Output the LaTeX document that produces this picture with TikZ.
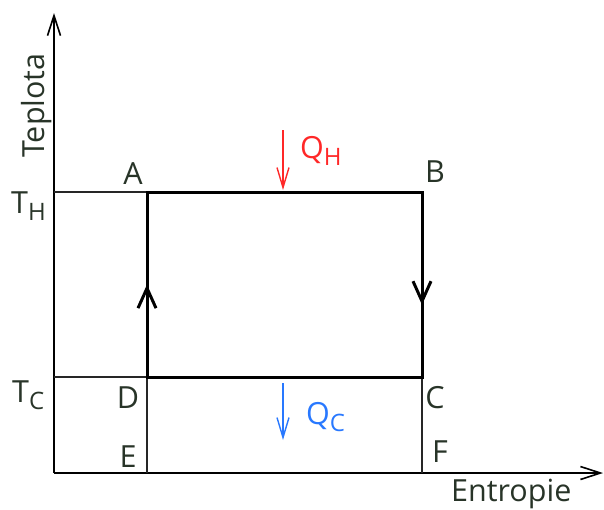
\documentclass[tikz,border=0pt]{standalone}
\usepackage{fontspec}
\setmainfont{Open Sans}
\usepackage{tikz}
\usetikzlibrary{arrows.meta, decorations.markings}
\definecolor{labelgray}{RGB}{40,52,40}
\definecolor{heatred}{RGB}{255,40,40}
\definecolor{coldblue}{RGB}{40,120,255}
\newcommand{\lowsub}[1]{\raisebox{-0.45ex}{\fontsize{24}{24}\selectfont #1}}

\begin{document}
\begin{tikzpicture}[x=1pt, y=-1pt,
  thinline/.style={line width=1.5pt, black!85},
  cycleline/.style={line width=3pt, black, line cap=rect},
  axisline/.style={line width=1.6pt, -{Straight Barb[length=20pt, width=13pt]}},
  heatline/.style={line width=1.4pt, -{Straight Barb[length=20pt, width=12pt]}},
  lbl/.style={font=\fontsize{30.5}{36}\selectfont, text=labelgray, inner sep=0pt},
  midarrow/.style={postaction={decorate}, decoration={markings,
    mark=at position #1 with {\arrow{Straight Barb[length=20pt, width=18pt]}}}},
  ]
  \useasboundingbox (0,0) rectangle (604,509);
  % axes
  \coordinate (O) at (54,473);
  \coordinate (ytop) at (54,13);
  \coordinate (xend) at (603,473);
  \draw[axisline] (O) -- (ytop);
  \draw[axisline] (O) -- (xend);
  % corners of the cycle
  \coordinate (A) at (147,192);
  \coordinate (B) at (422,192);
  \coordinate (C) at (422,377);
  \coordinate (D) at (147,377);
  \coordinate (E) at (147,473);
  \coordinate (F) at (422,473);
  % helper lines
  \draw[thinline] (O |- A) -- (A);
  \draw[thinline] (O |- D) -- (D);
  \draw[thinline] (D) -- (E);
  \draw[thinline] (C) -- (F);
  % the cycle
  \draw[cycleline] (A) -- (B);
  \draw[cycleline, midarrow=0.61] (B) -- (C);
  \draw[cycleline] (C) -- (D);
  \draw[cycleline, midarrow=0.5] (D) -- (A);
  % heat flows
  \coordinate (qhtop) at (283,130);
  \coordinate (qhbot) at (283,190);
  \coordinate (qctop) at (283,383);
  \coordinate (qcbot) at (283,440);
  \draw[heatline, heatred] (qhtop) -- (qhbot);
  \draw[heatline, coldblue] (qctop) -- (qcbot);
  % labels
  \node[lbl, anchor=base] (labA) at (133,184) {A};
  \node[lbl, anchor=base] (labB) at (435,182) {B};
  \node[lbl, anchor=base] (labC) at (435,408) {C};
  \node[lbl, anchor=base] (labD) at (128,408) {D};
  \node[lbl, anchor=base] (labE) at (128,467) {E};
  \node[lbl, anchor=base] (labF) at (440,462) {F};
  \node[lbl, anchor=base west] (labTH) at (11,213) {T\lowsub{H}};
  \node[lbl, anchor=base west] (labTC) at (12,402) {T\lowsub{C}};
  \node[lbl, text=heatred, anchor=base west] (labQH) at (300,158) {Q\lowsub{H}};
  \node[lbl, text=coldblue, anchor=base west] (labQC) at (306,424) {Q\lowsub{C}};
  \node[lbl, anchor=base west] (labS) at (451,501) {Entropie};
  \node[lbl, rotate=90, anchor=base west] (labT) at (44,158) {Teplota};
\end{tikzpicture}
\end{document}
